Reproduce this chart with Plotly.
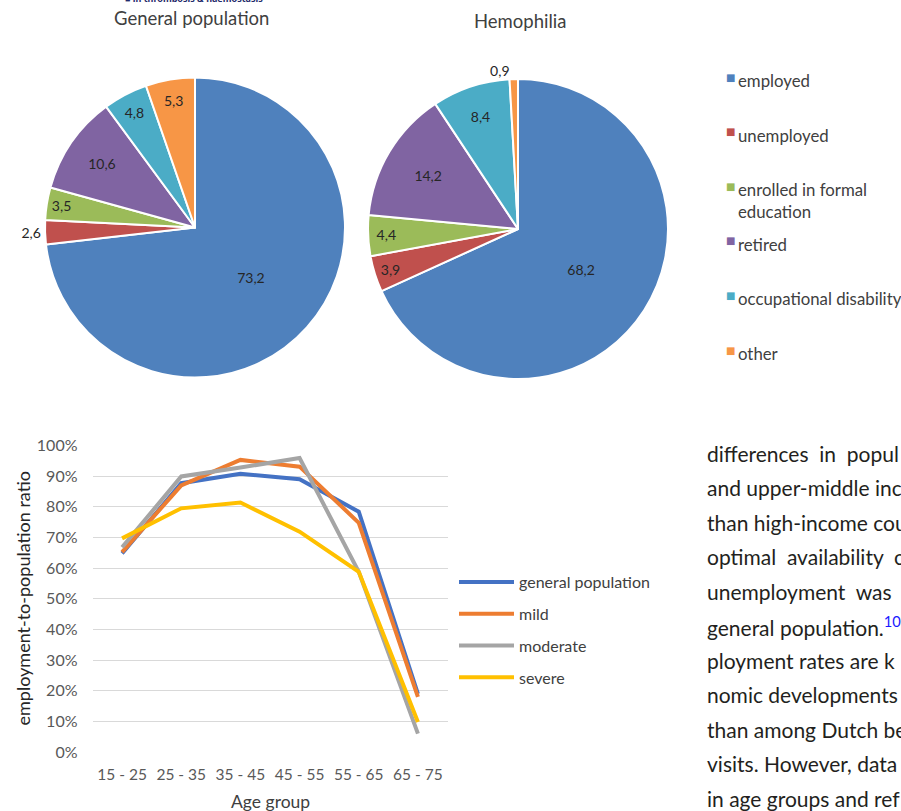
import plotly.graph_objects as go

W, H = 901, 811

# ---------------- data ----------------
pie_labels = ["employed", "unemployed", "enrolled in formal<br>education", "retired",
              "occupational disability", "other"]
pie_colors = ["#4F81BD", "#C0504D", "#9BBB59", "#8064A2", "#4BACC6", "#F79646"]
general_pop = [73.2, 2.6, 3.5, 10.6, 4.8, 5.3]
hemophilia = [68.2, 3.9, 4.4, 14.2, 8.4, 0.9]
general_textpos = ["inside", "outside", "inside", "inside", "inside", "inside"]
hemo_textpos = ["inside", "inside", "inside", "inside", "inside", "outside"]

age_groups = ["15 - 25", "25 - 35", "35 - 45", "45 - 55", "55 - 65", "65 - 75"]
series_names = ["general population", "mild", "moderate", "severe"]
series_colors = ["#4472C4", "#ED7D31", "#A5A5A5", "#FFC000"]
ratio_general = [0.648, 0.877, 0.908, 0.890, 0.784, 0.190]
ratio_mild = [0.652, 0.870, 0.953, 0.931, 0.748, 0.180]
ratio_moderate = [0.668, 0.899, 0.928, 0.959, 0.588, 0.060]
ratio_severe = [0.697, 0.795, 0.814, 0.719, 0.588, 0.098]
ratios = [ratio_general, ratio_mild, ratio_moderate, ratio_severe]

body_lines = [
    "differences\u00a0\u00a0in\u00a0\u00a0popul",
    "and upper-middle inc",
    "than high-income cou",
    "optimal\u00a0\u00a0availability\u00a0\u00a0c",
    "unemployment\u00a0\u00a0was",
    "general population.<sup><span style='color:#1a1aff'>10</span></sup>",
    "ployment rates are k",
    "nomic developments",
    "than among Dutch be",
    "visits. However, data",
    "in age groups and ref",
]


def px_x(p):
    return p / W


def px_y(p):
    return 1 - p / H


def fmt(v):
    return ("%.1f" % v).replace(".", ",")


FONT = "Lato"
fig = go.Figure()

# pies
for vals, pos, (x0, x1, y0, y1) in [
    (general_pop, general_textpos, (45, 345, 77, 378)),
    (hemophilia, hemo_textpos, (368, 668, 79, 379)),
]:
    fig.add_trace(go.Pie(
        labels=pie_labels, values=vals, sort=False, direction="clockwise", rotation=0,
        marker=dict(colors=pie_colors, line=dict(color="white", width=2)),
        text=[fmt(v) for v in vals], textinfo="text", textposition=pos,
        insidetextorientation="horizontal",
        textfont=dict(family=FONT, size=14, color="#262626"),
        outsidetextfont=dict(family=FONT, size=14, color="#262626"),
        showlegend=False, automargin=False,
        domain=dict(x=[px_x(x0), px_x(x1)], y=[px_y(y1), px_y(y0)]),
    ))

# lines
for name, col, vals in zip(series_names, series_colors, ratios):
    fig.add_trace(go.Scatter(
        x=age_groups, y=vals, mode="lines", name=name,
        line=dict(color=col, width=4),
        legend="legend2", legendgroup="l" + name,
    ))


def ann(text, x, y, size, color, family=FONT, xanchor="center", yanchor="middle", **kw):
    return dict(text=text, x=px_x(x), y=px_y(y), xref="paper", yref="paper",
                xanchor=xanchor, yanchor=yanchor, showarrow=False,
                font=dict(family=family, size=size, color=color), **kw)


annotations = [
    ann("General population", 191, 18, 18.5, "#404040"),
    ann("Hemophilia", 520, 21, 18.5, "#404040"),
    ann("<b>\u25a0 in thrombosis &amp; haemostasis</b>", 123, -1, 9, "#1F2A6B",
        family="Noto Sans", xanchor="left"),
    ann("employment-to-population ratio", 22, 598.5, 18, "#262626", textangle=-90),
    ann("Age group", 270, 801, 17.5, "#404040"),
]

# legend for pie categories (shared by both pies)
for i, (lab, col) in enumerate(zip(pie_labels, pie_colors)):
    yc = 79 + i * 54.6
    annotations.append(ann("\u25a0", 730, yc - 2, 10, col, family="DejaVu Sans"))
    annotations.append(ann(lab, 736, yc - 11, 16.8, "#404040", xanchor="left",
                           yanchor="top", align="left"))

for i, line in enumerate(body_lines):
    annotations.append(ann(line, 705, 453 + i * 34.5, 21, "#231F20",
                           xanchor="left", align="left"))

fig.update_layout(
    width=W, height=H, margin=dict(l=0, r=0, t=0, b=0),
    paper_bgcolor="white", plot_bgcolor="white",
    font=dict(family=FONT, color="#595959"),
    annotations=annotations,
    xaxis=dict(domain=[px_x(92.5), px_x(447.5)], type="category", range=[-0.5, 5.5],
               showgrid=False, automargin=False,
               showline=False, ticks="", zeroline=False, ticklabelstandoff=11,
               tickfont=dict(size=15.5, color="#595959")),
    yaxis=dict(domain=[px_y(752), px_y(445.5)], range=[0, 1.0], tickformat=".0%",
               dtick=0.1, showgrid=True, gridcolor="#D9D9D9", gridwidth=1.3,
               automargin=False,
               zeroline=False, showline=False, ticks="", ticklabelstandoff=14,
               tickfont=dict(size=16, color="#595959")),
    legend2=dict(x=px_x(454), y=px_y(565), xanchor="left", yanchor="top",
                 font=dict(family=FONT, size=16, color="#404040"),
                 tracegroupgap=8, traceorder="grouped", itemwidth=55,
                 bgcolor="rgba(0,0,0,0)"),
)

fig.write_html("out.html")
